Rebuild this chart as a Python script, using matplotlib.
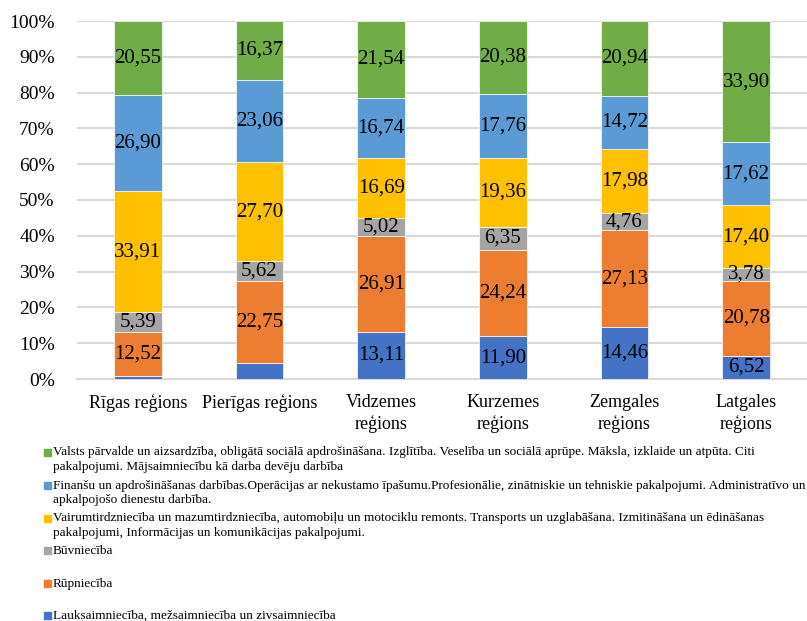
import numpy as np
import matplotlib
matplotlib.use("Agg")
import matplotlib.pyplot as plt
from matplotlib.patches import Rectangle

plt.rcParams['font.family'] = ['Liberation Serif', 'DejaVu Serif']

regions = ["Rīgas reģions", "Pierīgas reģions", "Vidzemes\nreģions",
           "Kurzemes\nreģions", "Zemgales\nreģions", "Latgales\nreģions"]

# bottom to top
sectors = [
    "Lauksaimniecība, mežsaimniecība un zivsaimniecība",
    "Rūpniecība",
    "Būvniecība",
    "Vairumtirdzniecība un mazumtirdzniecība, automobiļu un motociklu remonts. Transports un uzglabāšana. Izmitināšana un ēdināšanas\npakalpojumi, Informācijas un komunikācijas pakalpojumi.",
    "Finanšu un apdrošināšanas darbības.Operācijas ar nekustamo īpašumu.Profesionālie, zinātniskie un tehniskie pakalpojumi. Administratīvo un\napkalpojošo dienestu darbība.",
    "Valsts pārvalde un aizsardzība, obligātā sociālā apdrošināšana. Izglītība. Veselība un sociālā aprūpe. Māksla, izklaide un atpūta. Citi\npakalpojumi. Mājsaimniecību kā darba devēju darbība",
]

lauksaimn = [0.73, 4.50, 13.11, 11.90, 14.46, 6.52]
rupn = [12.52, 22.75, 26.91, 24.24, 27.13, 20.78]
buvn = [5.39, 5.62, 5.02, 6.35, 4.76, 3.78]
tirdzn = [33.91, 27.70, 16.69, 19.36, 17.98, 17.40]
finansu = [26.90, 23.06, 16.74, 17.76, 14.72, 17.62]
valsts = [20.55, 16.37, 21.54, 20.38, 20.94, 33.90]

series = [lauksaimn, rupn, buvn, tirdzn, finansu, valsts]
colors = ["#4472C4", "#ED7D31", "#A5A5A5", "#FFC000", "#5B9BD5", "#70AD47"]
# which segments carry a value label (first two blue ones are not labelled)
show_label = [[False, False, True, True, True, True]] + [[True] * 6] * 5

fig = plt.figure(figsize=(8.07, 6.21), dpi=100)
ax = fig.add_axes([77 / 807, 1 - 379 / 621, 730 / 807, 358 / 621])

x = np.arange(len(regions))
bottom = np.zeros(len(regions))
for i, vals in enumerate(series):
    vals = np.array(vals)
    ax.bar(x, vals, 0.39, bottom=bottom, color=colors[i], edgecolor="white",
           linewidth=0.5, zorder=3)
    for j in range(len(regions)):
        if show_label[i][j]:
            ax.text(x[j], bottom[j] + vals[j] / 2, f"{vals[j]:.2f}".replace(".", ","),
                    ha="center", va="center", fontsize=15, zorder=4)
    bottom += vals

ax.set_xlim(-0.5, len(regions) - 0.5)
ax.set_ylim(0, 100)
ax.set_yticks(np.arange(0, 101, 10))
ax.set_yticklabels([f"{v}%" for v in range(0, 101, 10)], fontsize=14)
ax.set_xticks(x)
ax.set_xticklabels(regions, fontsize=13, linespacing=1.3)
ax.tick_params(axis="y", length=0, pad=16)
ax.tick_params(axis="x", length=0, pad=11)
ax.grid(axis="y", color="#D9D9D9", linewidth=1.5, zorder=0)
for s in ["top", "right", "left"]:
    ax.spines[s].set_visible(False)
ax.spines["bottom"].set_color("#D9D9D9")
ax.spines["bottom"].set_linewidth(1.5)

# legend, top entry first
ys = [452, 485, 518, 550, 583, 615]
for k, yy in enumerate(ys):
    idx = len(series) - 1 - k
    fig.patches.append(Rectangle((44 / 807, 1 - (yy + 3.5) / 621), 7 / 807, 7 / 621,
                                 transform=fig.transFigure, color=colors[idx]))
    fig.text(53 / 807, 1 - (yy - 5.5) / 621, sectors[idx], fontsize=9.5,
             va="top", ha="left", linespacing=1.3)

fig.savefig("out.png", dpi=100)
